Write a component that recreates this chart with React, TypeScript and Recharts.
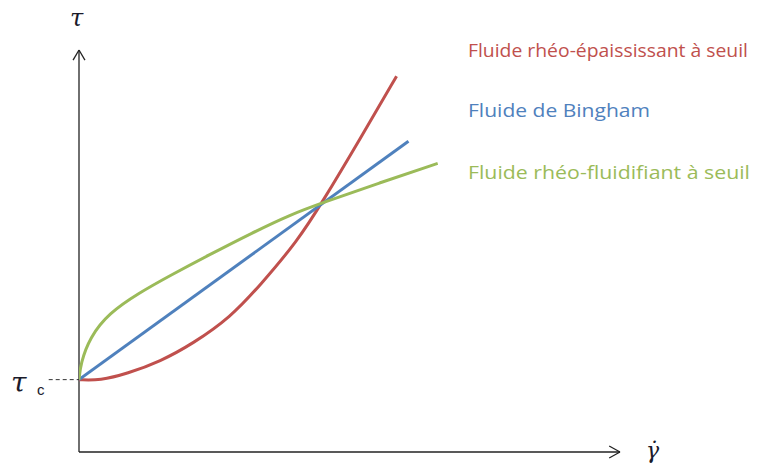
import { LineChart, Line, XAxis, YAxis, ReferenceLine } from 'recharts'

// shear rate (gamma dot) vs shear stress (tau), arbitrary units
const tauC = 1.8

const rheoEpaississant = [
  { x: 0, y: 1.8 },
  { x: 0.39, y: 1.78 },
  { x: 0.89, y: 1.95 },
  { x: 1.5, y: 2.25 },
  { x: 2.11, y: 2.7 },
  { x: 2.8, y: 3.35 },
  { x: 3.35, y: 4.15 },
  { x: 4.04, y: 5.25 },
  { x: 4.5, y: 6.22 },
  { x: 5.2, y: 7.8 },
  { x: 5.87, y: 9.35 },
]

const bingham = [
  { x: 0, y: 1.8 },
  { x: 6.09, y: 7.73 },
]

const rheoFluidifiant = [
  { x: 0, y: 1.8 },
  { x: 0.03, y: 2.2 },
  { x: 0.2, y: 2.85 },
  { x: 0.55, y: 3.45 },
  { x: 1.1, y: 3.95 },
  { x: 1.7, y: 4.4 },
  { x: 2.4, y: 4.9 },
  { x: 3.2, y: 5.45 },
  { x: 3.9, y: 5.9 },
  { x: 4.5, y: 6.2 },
  { x: 5.57, y: 6.7 },
  { x: 6.63, y: 7.18 },
]

const labels = [
  { text: 'Fluide rhéo-épaississant à seuil', color: '#C0504D', y: 57, len: 280 },
  { text: 'Fluide de Bingham', color: '#4F81BD', y: 117, len: 182 },
  { text: 'Fluide rhéo-fluidifiant à seuil', color: '#9BBB59', y: 179, len: 282 },
]

const W = 775
const H = 466
const axisStyle = { stroke: '#222', strokeWidth: 1.3 }

export default function App() {
  return (
    <div style={{ position: 'absolute', left: 0, top: 0, width: W, height: H, background: '#fff' }}>
      <LineChart width={W} height={H} margin={{ top: 50, right: 155, bottom: 14, left: 79 }}>
        <XAxis type="number" dataKey="x" domain={[0, 10]} hide allowDataOverflow />
        <YAxis type="number" dataKey="y" domain={[0, 10]} hide allowDataOverflow />

        {/* axes with arrow heads */}
        <ReferenceLine segment={[{ x: 0, y: 0 }, { x: 10, y: 0 }]} ifOverflow="visible" {...axisStyle} />
        <ReferenceLine segment={[{ x: 0, y: 0 }, { x: 0, y: 10 }]} ifOverflow="visible" {...axisStyle} />
        <ReferenceLine segment={[{ x: 9.8, y: 0.15 }, { x: 10, y: 0 }]} ifOverflow="visible" {...axisStyle} />
        <ReferenceLine segment={[{ x: 9.8, y: -0.15 }, { x: 10, y: 0 }]} ifOverflow="visible" {...axisStyle} />
        <ReferenceLine segment={[{ x: -0.11, y: 9.75 }, { x: 0, y: 10 }]} ifOverflow="visible" {...axisStyle} />
        <ReferenceLine segment={[{ x: 0.11, y: 9.75 }, { x: 0, y: 10 }]} ifOverflow="visible" {...axisStyle} />

        {/* tau_c */}
        <ReferenceLine segment={[{ x: -0.56, y: tauC }, { x: 0, y: tauC }]} ifOverflow="visible"
          stroke="#333" strokeDasharray="4 3" strokeWidth={1} />

        <Line data={rheoEpaississant} dataKey="y" type="basis" stroke="#C0504D" strokeWidth={3}
          dot={false} isAnimationActive={false} />
        <Line data={bingham} dataKey="y" type="linear" stroke="#4F81BD" strokeWidth={3}
          dot={false} isAnimationActive={false} />
        <Line data={rheoFluidifiant} dataKey="y" type="basis" stroke="#9BBB59" strokeWidth={3}
          dot={false} isAnimationActive={false} />
      </LineChart>

      <svg width={W} height={H} style={{ position: 'absolute', left: 0, top: 0, pointerEvents: 'none' }}>
        <text x={70} y={26} fontFamily="DejaVu Serif" fontStyle="italic" fontSize={24} fill="#1a1a2a">τ</text>
        <text x={11} y={392} fontFamily="DejaVu Serif" fontStyle="italic" fontSize={28} fill="#1a1a2a">τ</text>
        <text x={37} y={395} fontFamily="Liberation Sans" fontSize={15} fill="#1a1a2a">c</text>
        <text x={646} y={458} fontFamily="DejaVu Serif" fontStyle="italic" fontSize={22} fill="#1a1a2a">γ̇</text>
        {labels.map((l) => (
          <text key={l.text} x={468} y={l.y} fontFamily="Open Sans" fontSize={19} fill={l.color}
            textLength={l.len} lengthAdjust="spacingAndGlyphs">{l.text}</text>
        ))}
      </svg>
    </div>
  )
}
